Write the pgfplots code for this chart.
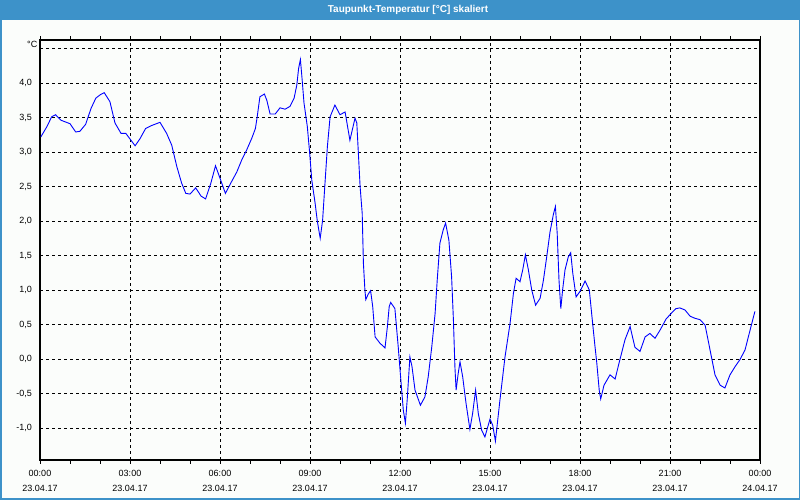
\documentclass[border=0pt]{standalone}
\usepackage{pgfplots}
\pgfplotsset{compat=1.18}
\usepackage{fontspec}
\setmainfont{Liberation Sans}
\definecolor{titleblue}{RGB}{61,146,201}
\definecolor{bgwin}{RGB}{251,253,251}
\begin{document}
\begin{tikzpicture}
\useasboundingbox (0pt,0pt) rectangle (800pt,500pt);
\fill[bgwin] (0pt,0pt) rectangle (800pt,500pt);
\fill[titleblue] (0pt,480pt) rectangle (800pt,500pt);
\node[text=white, font=\fontsize{10}{12}\selectfont\bfseries] at (408pt,490.5pt) {Taupunkt-Temperatur [°C] skaliert};
\draw[titleblue, line width=3pt] (0pt,0pt) rectangle (800pt,500pt);
\begin{axis}[
  at={(40pt,40pt)}, anchor=south west,
  scale only axis, width=720pt, height=420pt,
  xmin=0, xmax=24, ymin=-1.464, ymax=4.623,
  axis line style={line width=1.2pt, black},
  xtick={0,3,...,24},
  xticklabels={{00:00\\23.04.17},{03:00\\23.04.17},{06:00\\23.04.17},{09:00\\23.04.17},{12:00\\23.04.17},{15:00\\23.04.17},{18:00\\23.04.17},{21:00\\23.04.17},{00:00\\24.04.17}},
  xticklabel style={align=center, font=\fontsize{9}{15}\selectfont, yshift=-2.5pt},
  minor xtick={1,2,4,5,7,8,10,11,13,14,16,17,19,20,22,23},
  tick align=outside,
  major tick length=4pt, minor tick length=4pt,
  xtick style={black, line width=0.8pt},
  ytick={-1,-0.5,0,0.5,1,1.5,2,2.5,3,3.5,4,4.5},
  yticklabels={{-1,0},{-0,5},{0,0},{0,5},{1,0},{1,5},{2,0},{2,5},{3,0},{3,5},{4,0},{}},
  yticklabel style={font=\fontsize{9}{10}\selectfont, xshift=-0.5pt},
  ytick style={draw=none},
  xmajorgrids, ymajorgrids,
  major grid style={black, line width=0.9pt, dash pattern=on 3pt off 3pt},
  clip=true,
]
\addplot[blue, line width=0.9pt] coordinates {
(0.03,3.22)(0.22,3.36)(0.39,3.51)(0.52,3.54)(0.70,3.46)(1.00,3.41)(1.19,3.29)(1.33,3.30)
(1.52,3.40)(1.70,3.63)(1.86,3.78)(2.01,3.83)(2.14,3.86)(2.33,3.73)(2.50,3.42)(2.70,3.27)
(2.86,3.27)(3.17,3.09)(3.33,3.19)(3.52,3.34)(3.70,3.38)(4.00,3.43)(4.22,3.27)(4.39,3.10)
(4.56,2.79)(4.72,2.55)(4.86,2.40)(5.00,2.39)(5.19,2.48)(5.37,2.36)(5.52,2.32)(5.69,2.54)
(5.85,2.80)(6.00,2.62)(6.18,2.40)(6.36,2.55)(6.56,2.71)(6.72,2.88)(6.89,3.03)(7.06,3.20)
(7.18,3.34)(7.24,3.51)(7.33,3.80)(7.48,3.84)(7.56,3.75)(7.67,3.55)(7.84,3.55)(8.00,3.64)
(8.17,3.62)(8.33,3.66)(8.47,3.78)(8.56,3.97)(8.62,4.21)(8.68,4.34)(8.73,4.09)(8.80,3.71)
(8.91,3.37)(8.98,3.03)(9.06,2.59)(9.17,2.26)(9.24,2.01)(9.34,1.75)(9.42,2.01)(9.50,2.55)
(9.58,3.08)(9.67,3.51)(9.83,3.68)(10.00,3.54)(10.17,3.58)(10.33,3.17)(10.50,3.49)(10.56,3.42)
(10.67,2.50)(10.74,2.11)(10.78,1.39)(10.83,1.00)(10.86,0.86)(10.94,0.94)(11.02,0.99)(11.09,0.76)
(11.17,0.32)(11.33,0.23)(11.50,0.16)(11.58,0.47)(11.64,0.76)(11.69,0.82)(11.83,0.73)(11.94,0.18)
(12.02,-0.26)(12.11,-0.74)(12.18,-0.93)(12.24,-0.59)(12.33,0.03)(12.40,-0.11)(12.50,-0.45)(12.68,-0.67)
(12.83,-0.55)(12.94,-0.26)(13.06,0.18)(13.17,0.66)(13.24,1.14)(13.33,1.68)(13.44,1.87)(13.52,1.97)
(13.63,1.72)(13.72,1.19)(13.78,0.57)(13.83,-0.11)(13.87,-0.45)(13.94,-0.21)(14.00,-0.04)(14.09,-0.26)
(14.20,-0.64)(14.33,-1.02)(14.42,-0.79)(14.52,-0.45)(14.61,-0.79)(14.72,-1.03)(14.83,-1.13)(15.00,-0.87)
(15.09,-0.96)(15.18,-1.19)(15.33,-0.60)(15.50,0.03)(15.67,0.52)(15.78,0.95)(15.87,1.17)(16.00,1.12)
(16.09,1.29)(16.18,1.51)(16.28,1.29)(16.39,1.00)(16.52,0.78)(16.67,0.88)(16.78,1.14)(16.89,1.48)
(17.00,1.84)(17.11,2.09)(17.18,2.21)(17.24,1.82)(17.30,1.14)(17.36,0.73)(17.42,1.00)(17.50,1.29)
(17.61,1.48)(17.69,1.54)(17.76,1.24)(17.87,0.90)(18.00,0.98)(18.17,1.13)(18.31,1.00)(18.42,0.52)
(18.50,0.18)(18.56,-0.06)(18.64,-0.45)(18.69,-0.58)(18.80,-0.38)(19.00,-0.23)(19.17,-0.29)(19.33,-0.01)
(19.50,0.28)(19.67,0.47)(19.83,0.17)(20.00,0.11)(20.17,0.32)(20.33,0.37)(20.50,0.30)(20.67,0.42)
(20.87,0.58)(21.06,0.67)(21.20,0.73)(21.33,0.74)(21.50,0.71)(21.67,0.62)(21.83,0.59)(22.00,0.57)
(22.17,0.49)(22.28,0.25)(22.39,0.01)(22.50,-0.23)(22.67,-0.38)(22.83,-0.42)(23.00,-0.23)(23.17,-0.11)
(23.33,-0.01)(23.50,0.13)(23.67,0.42)(23.83,0.69)
};
\end{axis}
\node[anchor=east, font=\fontsize{9}{10}\selectfont, inner sep=0pt] at (37.5pt,456pt) {°C};
\end{tikzpicture}
\end{document}
